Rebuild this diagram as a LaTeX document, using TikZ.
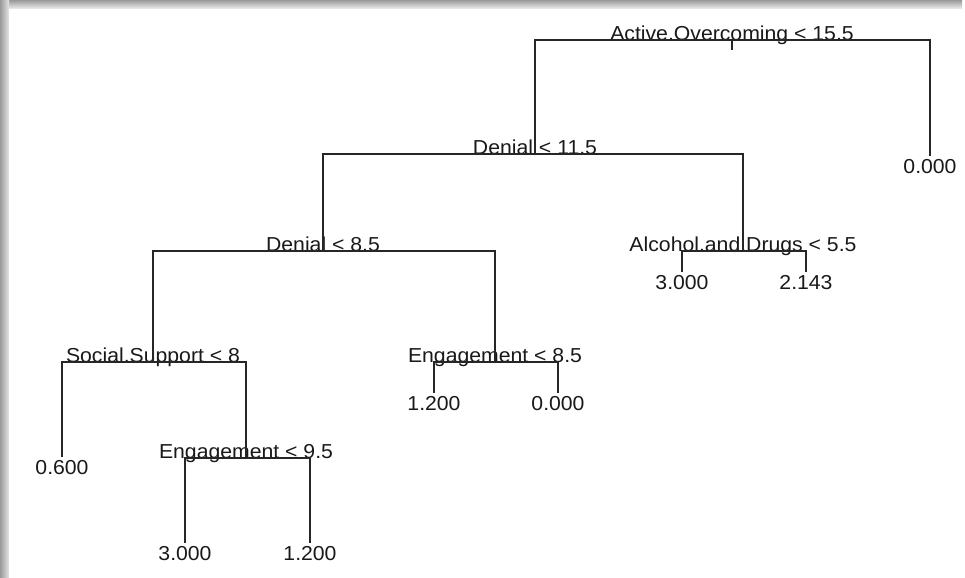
\documentclass[tikz,border=0pt]{standalone}
\usepackage{fontspec}
\setmainfont{Liberation Sans}[FakeStretch=1.05]
\usetikzlibrary{positioning}

\begin{document}
\begin{tikzpicture}[x=0.02cm, y=-0.02cm,
    split/.style={anchor=base, inner sep=0pt, text=black!90, font=\fontsize{11.5}{13}\selectfont},
    leaf/.style={below=1.7pt of #1, inner sep=0pt, text=black!90, font=\fontsize{11.5}{13}\selectfont},
    edge/.style={draw=black!85, line width=0.8pt}
  ]
  \useasboundingbox (0,0) rectangle (965,578);
  \shade[top color=black!40, bottom color=black!10] (0,0) rectangle (962,8);
  \shade[left color=black!40, right color=black!10] (0,0) rectangle (9,578);

  \coordinate (ao) at (732,40);
  \coordinate (ao0) at (732,50);
  \coordinate (dn1) at (535,154);
  \coordinate (r0) at (930,156);
  \coordinate (dn2) at (323,251);
  \coordinate (alc) at (743,251);
  \coordinate (a1) at (682,272);
  \coordinate (a2) at (806,272);
  \coordinate (soc) at (153,362);
  \coordinate (eng1) at (495,362);
  \coordinate (s1) at (62,457);
  \coordinate (eng2) at (246,458);
  \coordinate (e1a) at (434,393);
  \coordinate (e1b) at (558,393);
  \coordinate (e2a) at (185,543);
  \coordinate (e2b) at (310,543);

  \node[split] (aot) at (ao) {Active.Overcoming < 15.5};
  \node[split] (dn1t) at (dn1) {Denial < 11.5};
  \node[split] (dn2t) at (dn2) {Denial < 8.5};
  \node[split] (alct) at (alc) {Alcohol.and.Drugs < 5.5};
  \node[split] (soct) at (soc) {Social.Support < 8};
  \node[split] (eng1t) at (eng1) {Engagement < 8.5};
  \node[split] (eng2t) at (eng2) {Engagement < 9.5};

  \node[leaf=r0] (r0t) {0.000};
  \node[leaf=a1] (a1t) {3.000};
  \node[leaf=a2] (a2t) {2.143};
  \node[leaf=s1] (s1t) {0.600};
  \node[leaf=e1a] (e1at) {1.200};
  \node[leaf=e1b] (e1bt) {0.000};
  \node[leaf=e2a] (e2at) {3.000};
  \node[leaf=e2b] (e2bt) {1.200};

  \draw[edge] (ao) -- (ao0);
  \draw[edge] (ao) -| (dn1);  \draw[edge] (ao) -| (r0);
  \draw[edge] (dn1) -| (dn2); \draw[edge] (dn1) -| (alc);
  \draw[edge] (dn2) -| (soc); \draw[edge] (dn2) -| (eng1);
  \draw[edge] (alc) -| (a1);  \draw[edge] (alc) -| (a2);
  \draw[edge] (soc) -| (s1);  \draw[edge] (soc) -| (eng2);
  \draw[edge] (eng1) -| (e1a); \draw[edge] (eng1) -| (e1b);
  \draw[edge] (eng2) -| (e2a); \draw[edge] (eng2) -| (e2b);
\end{tikzpicture}
\end{document}
